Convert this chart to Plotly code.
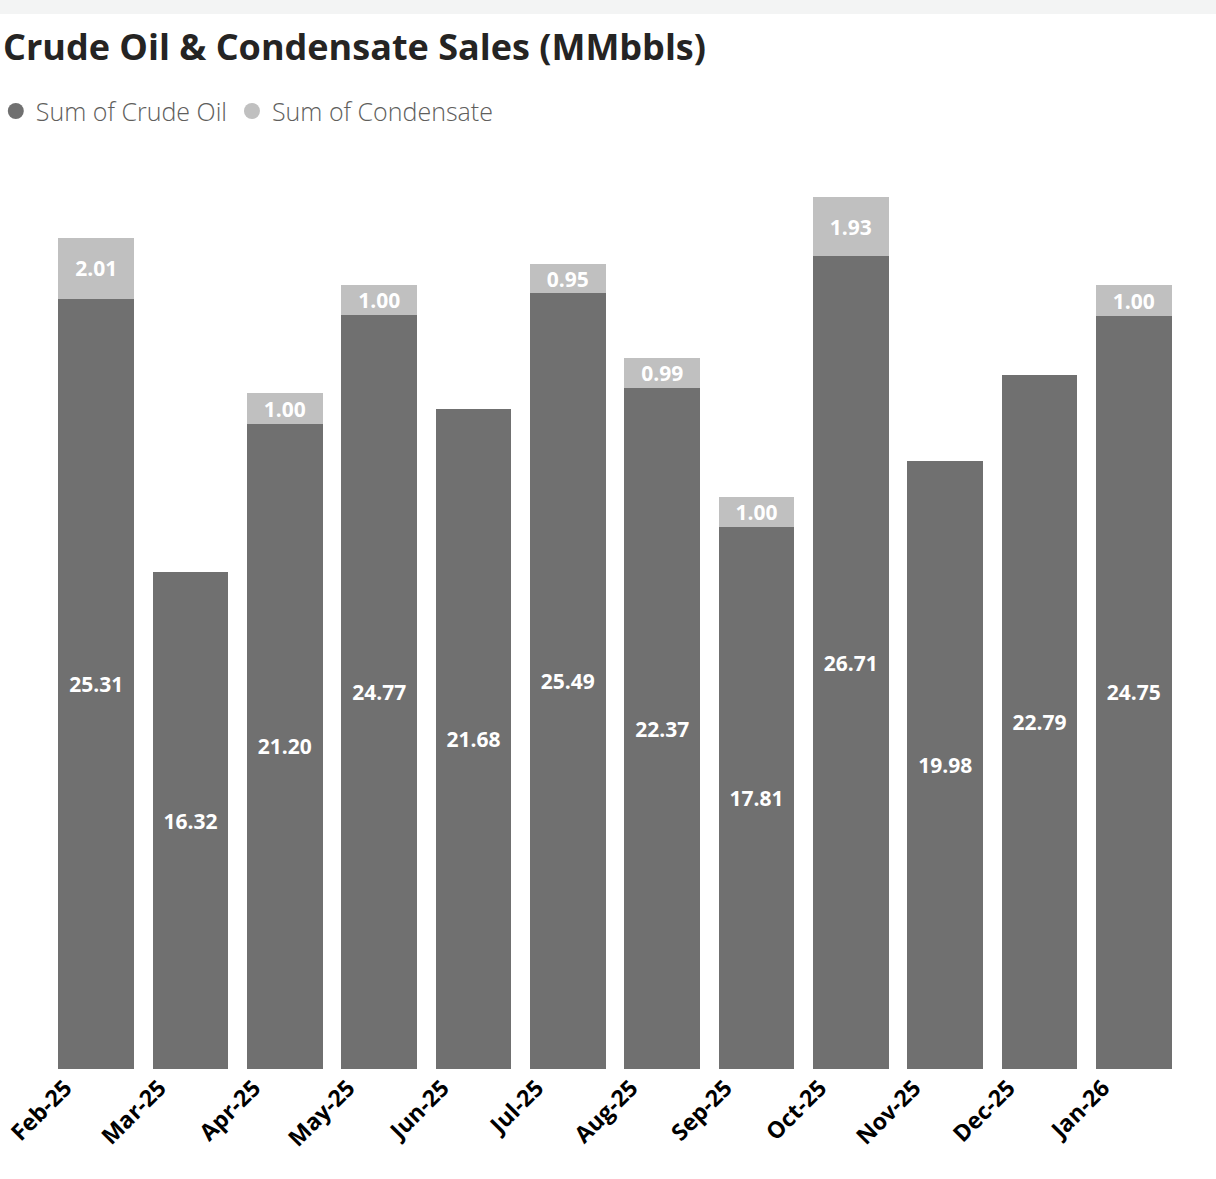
import plotly.graph_objects as go

months = ["Feb-25", "Mar-25", "Apr-25", "May-25", "Jun-25", "Jul-25",
          "Aug-25", "Sep-25", "Oct-25", "Nov-25", "Dec-25", "Jan-26"]
crude_oil = [25.31, 16.32, 21.20, 24.77, 21.68, 25.49, 22.37, 17.81, 26.71, 19.98, 22.79, 24.75]
condensate = [2.01, None, 1.00, 1.00, None, 0.95, 0.99, 1.00, 1.93, None, None, 1.00]

DARK = "#707070"
LIGHT = "#c0c0c0"
FONT = "Open Sans"

fig = go.Figure()
fig.add_trace(go.Bar(
    x=months, y=crude_oil, name="Sum of Crude Oil", marker_color=DARK,
    text=[f"{v:.2f}" for v in crude_oil], textposition="inside",
    insidetextanchor="middle", textangle=0, constraintext="none",
    textfont=dict(family=FONT, size=21, color="white", weight="bold"),
    showlegend=False, marker_line_width=0, hoverinfo="x+y+name",
))
fig.add_trace(go.Bar(
    x=months, y=condensate, name="Sum of Condensate", marker_color=LIGHT,
    text=[f"{v:.2f}" if v is not None else "" for v in condensate],
    textposition="inside", insidetextanchor="middle", textangle=0, constraintext="none",
    textfont=dict(family=FONT, size=21, color="white", weight="bold"),
    showlegend=False, marker_line_width=0, hoverinfo="x+y+name",
))
# legend entries with circle markers
for nm, col in [("Sum of Crude Oil", DARK), ("Sum of Condensate", LIGHT)]:
    fig.add_trace(go.Scatter(x=[None], y=[None], mode="markers", name=nm,
                             marker=dict(symbol="circle", size=18, color=col)))

fig.update_layout(
    width=1216, height=1179,
    barmode="stack", bargap=0.2,
    margin=dict(l=49, r=35, t=156, b=110, autoexpand=False),
    paper_bgcolor="white", plot_bgcolor="white",
    font=dict(family=FONT),
    title=dict(text="<b>Crude Oil & Condensate Sales (MMbbls)</b>",
               x=3/1216, xref="container", xanchor="left",
               y=1 - 47/1179, yref="container", yanchor="middle",
               font=dict(family=FONT, size=36, color="#252423")),
    legend=dict(orientation="h", traceorder="normal",
                x=-0.047, xanchor="left", y=1.049, yanchor="middle",
                font=dict(family=FONT, size=25, color="#605e5c", weight=300),
                itemwidth=30, tracegroupgap=0),
    xaxis=dict(tickangle=-45, automargin=False, ticklabelshift=-31,
               tickfont=dict(family=FONT, size=23, color="black", weight="bold"),
               showgrid=False, showline=False, ticks=""),
    yaxis=dict(range=[0, 30], visible=False, showgrid=False, automargin=False),
    shapes=[dict(type="rect", xref="paper", yref="paper", x0=-0.1, x1=1.1,
                 y0=(1069 - 14) / 913, y1=(1069 + 10) / 913,
                 fillcolor="#f3f4f4", line_width=0, layer="below")],
)

fig.write_html("out.html", config={"displayModeBar": False},
               post_script="document.body.style.margin='0px';")
